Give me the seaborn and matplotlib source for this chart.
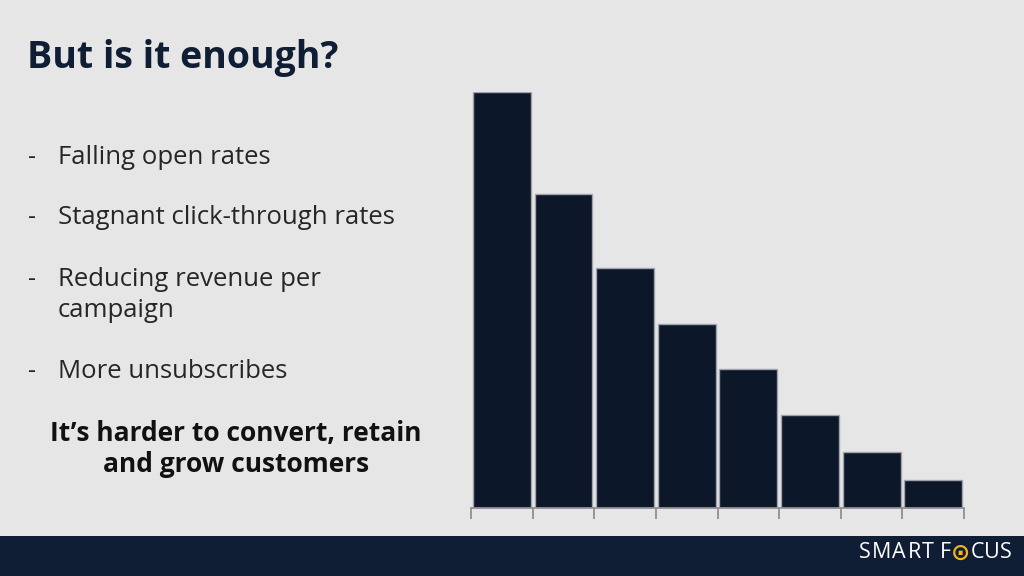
import matplotlib
matplotlib.use("Agg")
import matplotlib.pyplot as plt
import seaborn as sns
import pandas as pd
import numpy as np

# Data
categories = ["1", "2", "3", "4", "5", "6", "7", "8"]
values = [100, 75.5, 57.7, 44.2, 33.4, 22.4, 13.5, 6.7]

title = "But is it enough?"
bullets = ["Falling open rates", "Stagnant click-through rates",
           "Reducing revenue per\ncampaign", "More unsubscribes"]
tagline = "It\u2019s harder to convert, retain\nand grow customers"
logo_left = "SMART F"
logo_right = "CUS"

BG = "#e6e6e6"
NAVY = "#0c1729"
FOOT = "#0f1d35"

sns.set_theme(style="white")
plt.rcParams['font.family'] = ['Open Sans', 'DejaVu Sans']

fig = plt.figure(figsize=(10.24, 5.76), dpi=100, facecolor=BG)

ax = fig.add_axes([0.46, 0.118, 0.9414 - 0.46, 0.722])
ax.set_facecolor(BG)
df = pd.DataFrame({"cat": categories, "val": values})
sns.barplot(data=df, x="cat", y="val", ax=ax, color=NAVY, saturation=1,
            width=0.94, edgecolor="#a0a4aa", linewidth=1.0)
ax.set_xlim(-0.5, len(categories) - 0.5)
ax.set_ylim(0, max(values))
ax.set_xlabel("")
ax.set_ylabel("")
ax.set_yticks([])
ax.set_xticks(np.arange(-0.5, len(categories), 1.0))
ax.set_xticklabels([])
ax.tick_params(axis="x", bottom=True, length=8, width=1.3, color="#8d8f93", direction="out")
for s in ["top", "right", "left"]:
    ax.spines[s].set_visible(False)
ax.spines["bottom"].set_color("#8d8f93")
ax.spines["bottom"].set_linewidth(1.3)

# Title
fig.text(27 / 1024, 1 - 58 / 576, title, fontsize=27, fontweight="bold",
         color="#0f1d35", ha="left", va="center")

# Bullets
ys = [157, 217, 295, 371]
for y, b in zip(ys, bullets):
    top_y = y if "\n" not in b else 279
    fig.text(28 / 1024, 1 - top_y / 576, "-", fontsize=18, color="#262626",
             ha="left", va="center")
    fig.text(58 / 1024, 1 - y / 576, b, fontsize=18.5, color="#262626",
             ha="left", va="center", linespacing=1.33)

fig.text(236 / 1024, 1 - 449 / 576, tagline, fontsize=19, fontweight="bold",
         color="#111111", ha="center", va="center", linespacing=1.2)

# Footer band
fig.patches.append(plt.Rectangle((0, 0), 1, 40 / 576, transform=fig.transFigure,
                                 facecolor=FOOT, edgecolor="none", zorder=0))
left_x = [865, 882, 899, 914, 928, None, 945]
for ch, x in zip(logo_left, left_x):
    if x is None:
        continue
    fig.text(x / 1024, 1 - 553 / 576, ch, fontsize=15.5, color="white",
             ha="center", va="center")
fig.text(960 / 1024, 1 - 553 / 576, "\u2299", fontsize=16.5, color="#f2b31b",
         ha="center", va="center", family="DejaVu Sans", fontweight="bold")
for ch, x in zip(logo_right, [977, 992, 1006]):
    fig.text(x / 1024, 1 - 553 / 576, ch, fontsize=15.5, color="white",
             ha="center", va="center")

fig.savefig("out.png", dpi=100, facecolor=BG)
